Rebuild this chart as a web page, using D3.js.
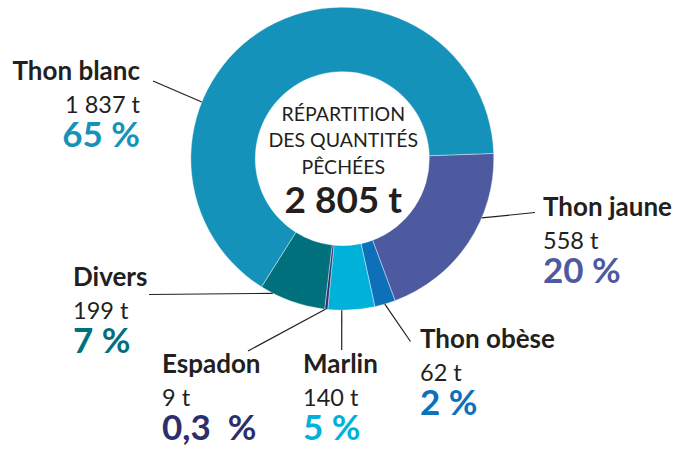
<!DOCTYPE html>
<html>
<head>
<meta charset="utf-8">
<script src="https://cdn.jsdelivr.net/npm/d3@7"></script>
<style>
  body { margin: 0; background: #fff; }
  svg text { font-family: "Lato", "Open Sans", sans-serif; fill: #231f20; }
</style>
</head>
<body>
<div id="chart"></div>
<script>
// data (clockwise from the Thon jaune start)
const species = ["Thon jaune", "Thon obèse", "Marlin", "Espadon", "Divers", "Thon blanc"];
const tonnes = [558, 62, 140, 9, 199, 1837];
const pctLabels = ["20 %", "2 %", "5 %", "0,3  %", "7 %", "65 %"];
const colors = ["#4d5a9f", "#0d70b9", "#00b1da", "#2e2e6c", "#00717c", "#1592b9"];
const totalLabel = "2 805 t";

// label layout: anchor point, text-anchor, leader angle on ring (deg), leader end
const layout = {
  "Thon blanc": { x: 140, y: 80, anchor: "end",   angle: 292,   lx: 153, ly: 81 },
  "Thon jaune": { x: 543, y: 216, anchor: "start", angle: 113,  lx: 535, ly: 212.5 },
  "Thon obèse": { x: 420, y: 348, anchor: "start", angle: 163.7, lx: 410.5, ly: 341.5 },
  "Marlin":     { x: 303, y: 373, anchor: "start", angle: 180.2, lx: 341.7, ly: 350 },
  "Espadon":    { x: 162, y: 373, anchor: "start", angle: 186.4, lx: 248, ly: 351 },
  "Divers":     { x: 73,  y: 286, anchor: "start", angle: 207.3, lx: 149, ly: 294.5 }
};

const width = 689, height = 450;
const cx = 342.3, cy = 158.7;
const outerR = 151.5, innerR = 87;
const start = 88 * Math.PI / 180;

const fmt = d3.formatLocale({ decimal: ",", thousands: " ", grouping: [3], currency: ["", " €"] }).format(",d");

const svg = d3.select("#chart").append("svg")
  .attr("width", width)
  .attr("height", height);

const g = svg.append("g").attr("transform", `translate(${cx},${cy})`);

const data = species.map((s, i) => ({ name: s, value: tonnes[i], pct: pctLabels[i], color: colors[i] }));

const pie = d3.pie().sort(null).value(d => d.value)
  .startAngle(start).endAngle(start + 2 * Math.PI);
const arc = d3.arc().innerRadius(innerR).outerRadius(outerR);

const arcs = pie(data);

g.selectAll("path.slice")
  .data(arcs)
  .enter().append("path")
  .attr("class", "slice")
  .attr("d", arc)
  .attr("fill", d => d.data.color)
  .attr("stroke", "#fff")
  .attr("stroke-width", 0.4);

// leader lines
svg.selectAll("line.leader")
  .data(data)
  .enter().append("line")
  .attr("class", "leader")
  .attr("x1", d => cx + outerR * Math.sin(layout[d.name].angle * Math.PI / 180))
  .attr("y1", d => cy - outerR * Math.cos(layout[d.name].angle * Math.PI / 180))
  .attr("x2", d => layout[d.name].lx)
  .attr("y2", d => layout[d.name].ly)
  .attr("stroke", "#231f20")
  .attr("stroke-width", 1.2);

// labels
const lab = svg.selectAll("g.label")
  .data(data)
  .enter().append("g")
  .attr("class", "label")
  .attr("transform", d => `translate(${layout[d.name].x},${layout[d.name].y})`)
  .attr("text-anchor", d => layout[d.name].anchor);

lab.append("text")
  .attr("font-size", 26)
  .attr("font-weight", 700)
  .text(d => d.name);

lab.append("text")
  .attr("y", 32.5)
  .attr("font-size", 23.5)
  .text(d => fmt(d.value) + " t");

lab.append("text")
  .attr("y", 67)
  .attr("font-size", 35)
  .attr("font-weight", 700)
  .style("white-space", "pre")
  .style("fill", d => d.color)
  .text(d => d.pct);

// centre text
const title = ["RÉPARTITION", "DES QUANTITÉS", "PÊCHÉES"];
g.selectAll("text.title")
  .data(title)
  .enter().append("text")
  .attr("class", "title")
  .attr("text-anchor", "middle")
  .attr("x", 1)
  .attr("y", (d, i) => -38 + i * 26.5)
  .attr("font-size", 19.5)
  .text(d => d);

g.append("text")
  .attr("text-anchor", "middle")
  .attr("x", 1)
  .attr("y", 54)
  .attr("font-size", 37)
  .attr("font-weight", 700)
  .text(totalLabel);
</script>
</body>
</html>
